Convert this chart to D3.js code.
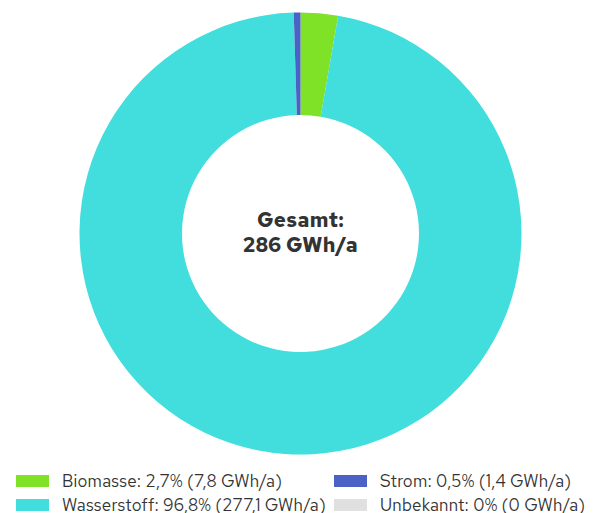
<!DOCTYPE html>
<html>
<head>
<meta charset="utf-8">
<script src="https://cdn.jsdelivr.net/npm/d3@7"></script>
<style>
  html, body { margin: 0; padding: 0; background: #fff; }
  svg { display: block; }
</style>
</head>
<body>
<svg id="chart" width="597" height="513"></svg>
<script>
// Energy sources, share of total (GWh/a)
const categories = ["Biomasse", "Wasserstoff", "Strom", "Unbekannt"];
const energyValues = [7.8, 277.1, 1.4, 0];
const percentLabels = ["2,7%", "96,8%", "0,5%", "0%"];
const valueLabels = ["7,8 GWh/a", "277,1 GWh/a", "1,4 GWh/a", "0 GWh/a"];
const colors = ["#80e226", "#42dddd", "#4a62c6", "#e0e0e0"];
const totalLabel = ["Gesamt:", "286 GWh/a"];

const svg = d3.select("#chart");
const fontFamily = "'Red Hat Text', Inter, 'Noto Sans', sans-serif";
const textColor = "#333333";

const cx = 300.5, cy = 233.5;
const outerR = 221, innerR = 118.5;

const data = categories.map((c, i) => ({ name: c, value: energyValues[i], i }));

const pie = d3.pie()
  .value(d => d.value)
  .sort(null);

const arc = d3.arc()
  .innerRadius(innerR)
  .outerRadius(outerR);

const g = svg.append("g").attr("transform", `translate(${cx},${cy})`);

g.selectAll("path")
  .data(pie(data).filter(d => d.data.value > 0))
  .join("path")
  .attr("d", arc)
  .attr("fill", d => colors[d.data.i]);

// Total in the centre of the ring
g.selectAll("text.total")
  .data(totalLabel)
  .join("text")
  .attr("class", "total")
  .attr("x", 0)
  .attr("y", (d, i) => -6.5 + i * 25)
  .attr("text-anchor", "middle")
  .attr("font-family", fontFamily)
  .attr("font-weight", 700)
  .attr("font-size", 20.5)
  .attr("letter-spacing", 0.4)
  .attr("fill", textColor)
  .text(d => d);

// Legend: two columns (Biomasse/Wasserstoff left, Strom/Unbekannt right)
const legendCol = [0, 0, 1, 1];
const legendRow = [0, 1, 0, 1];
const legendX = [16, 334];
const legendY = [481, 505];
const items = svg.append("g").selectAll("g.item")
  .data(data)
  .join("g")
  .attr("class", "item")
  .attr("transform", d => `translate(${legendX[legendCol[d.i]]},${legendY[legendRow[d.i]]})`);

items.append("rect")
  .attr("x", 0)
  .attr("y", -6)
  .attr("width", 33)
  .attr("height", 12)
  .attr("fill", d => colors[d.i]);

items.append("text")
  .attr("x", 46)
  .attr("y", 0)
  .attr("dy", "0.36em")
  .attr("font-family", fontFamily)
  .attr("font-size", 17)
  .attr("letter-spacing", 0.2)
  .attr("fill", textColor)
  .text(d => `${d.name}: ${percentLabels[d.i]} (${valueLabels[d.i]})`);
</script>
</body>
</html>
